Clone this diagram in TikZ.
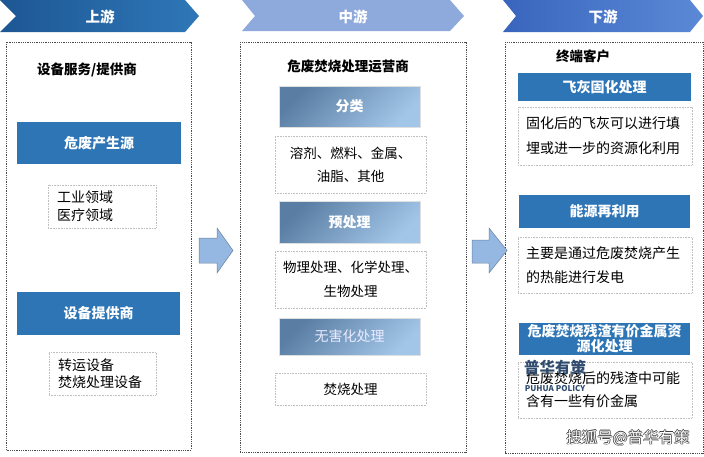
\documentclass[tikz,border=0pt]{standalone}
\usepackage{fontspec}
\setmainfont{Noto Sans CJK SC}
\usepackage{tikz}
\definecolor{up-dark}{HTML}{1D5793}
\definecolor{up-light}{HTML}{2F77B8}
\definecolor{mid-blue}{HTML}{8EA9DB}
\definecolor{down-dark}{HTML}{3966BD}
\definecolor{down-light}{HTML}{5B89D6}
\definecolor{head-blue}{HTML}{2E75B6}
\definecolor{grad-dark}{HTML}{5A7DA3}
\definecolor{grad-light}{HTML}{A2C6E8}
\definecolor{arrow-blue}{HTML}{95B8E3}
\definecolor{mark-blue}{HTML}{2F4B6E}

\newcommand{\outlinetext}[1]{%
	\rlap{\hspace{-.7pt}\textcolor{black!75}{#1}}%
	\rlap{\hspace{.7pt}\textcolor{black!75}{#1}}%
	\rlap{\raisebox{.7pt}{\textcolor{black!75}{#1}}}%
	\rlap{\raisebox{-.7pt}{\textcolor{black!75}{#1}}}%
	\textcolor{white}{#1}}

\tikzset{
	chevtext/.style={text=white, font=\bfseries\fontsize{14.5}{16}\selectfont, inner sep=0},
	titletext/.style={font=\bfseries\fontsize{13.5}{16}\selectfont, inner sep=0},
	outerbox/.style={draw=black!70, densely dotted, line width=.8pt},
	headbox/.style={fill=head-blue, text=white, font=\bfseries\fontsize{14}{15}\selectfont, inner sep=0, align=center},
	gradbox/.style={top color=grad-dark, bottom color=grad-light, shading angle=45, draw=gray!25, text=white, font=\bfseries\fontsize{14}{16}\selectfont, inner sep=0, minimum width=141pt},
	textbox/.style={draw=gray!50, densely dotted, line width=.6pt, inner ysep=0},
	blockarrow/.style={fill=arrow-blue, draw=arrow-blue!70!black, line width=.5pt},
}

\begin{document}
\begin{tikzpicture}[x=1pt,y=-1pt]
		\useasboundingbox (0,0) rectangle (704,456);
		\fill[white] (0,0) rectangle (704,456);

			% chevrons
			\shade[left color=up-dark, right color=up-light] (0,0) -- (185,0) -- (199,16) -- (185,32) -- (0,32) -- (16,16) -- cycle;
			\fill[mid-blue] (242,0) -- (450,0) -- (464,16) -- (450,31) -- (242,31) -- (255,16) -- cycle;
			\shade[left color=down-dark, right color=down-light] (503,0) -- (690,0) -- (703,16) -- (690,32) -- (503,32) -- (516,16) -- cycle;

			\node[chevtext] (up) at (100,17) {上游};
			\node[chevtext] (mid) at (353,17) {中游};
			\node[chevtext] (down) at (603,17) {下游};

			% column frames
			\draw[outerbox] (6,42) rectangle (191,450);
			\draw[outerbox] (240,42) rectangle (466,452);
			\draw[outerbox] (505,42) rectangle (703,453);

			% upstream
			\node[titletext] (upttl) at (87,70) {设备服务/提供商};
			\node[headbox, minimum width=164pt, minimum height=42pt] (src) at (99,143) {危废产生源};
			\node[textbox, text width=90pt, inner xsep=9pt, minimum height=43pt, align=left,
				font=\fontsize{14}{18}\selectfont] (srctxt) at (102,206.5) {工业领域\\医疗领域};
			\node[headbox, minimum width=163pt, minimum height=43pt] (sup) at (98.5,313.5) {设备提供商};
			\node[textbox, text width=89pt, inner xsep=9pt, minimum height=43pt, align=left,
				font=\fontsize{14}{17}\selectfont] (suptxt) at (102.5,373.5) {转运设备\\焚烧处理设备};

			% midstream
			\node[titletext] (midttl) at (348,66) {危废焚烧处理运营商};
			\node[gradbox, minimum height=41pt] (sort) at (349.5,106.5) {分类};
			\node[textbox, minimum width=151pt, minimum height=57pt, align=center,
				font=\fontsize{13.5}{23}\selectfont] (sorttxt) at (350.5,164.5) {溶剂、燃料、金属、\\油脂、其他};
			\node[gradbox, minimum height=42pt] (pre) at (349.5,222) {预处理};
			\node[textbox, minimum width=151pt, minimum height=57pt, align=center,
				font=\fontsize{13.5}{24}\selectfont] (pretxt) at (350.5,279.5) {物理处理、化学处理、\\生物处理};
			\node[gradbox, minimum height=37pt, text=white!92!blue, font=\fontsize{14}{16}\selectfont] (safe) at (349.5,336.5) {无害化处理};
			\node[textbox, minimum width=151pt, minimum height=32pt,
				font=\fontsize{13.5}{16}\selectfont] (safetxt) at (350.5,389) {焚烧处理};

			% downstream
			\node[titletext] (downttl) at (583,56) {终端客户};
			\node[headbox, minimum width=173pt, minimum height=28pt] (ash) at (604.5,87) {飞灰固化处理};
			\node[textbox, text width=158pt, inner xsep=8pt, minimum height=58pt, align=left,
				font=\fontsize{14}{25}\selectfont] (ashtxt) at (605,136) {固化后的飞灰可以进行填\\埋或进一步的资源化利用};
			\node[headbox, minimum width=171pt, minimum height=33pt] (energy) at (604.5,211.5) {能源再利用};
			\node[textbox, text width=158pt, inner xsep=8pt, minimum height=56pt, align=left,
				font=\fontsize{14}{24}\selectfont] (energytxt) at (605,265) {主要是通过危废焚烧产生\\的热能进行发电};
			\node[headbox, minimum width=171pt, minimum height=32pt] (metal) at (604.5,339) {危废焚烧残渣有价金属资\\源化处理};
			\node[textbox, text width=158pt, inner xsep=8pt, minimum height=56pt, align=left,
				font=\fontsize{14}{23}\selectfont] (metaltxt) at (605,390) {危废焚烧后的残渣中可能\\含有一些有价金属};

			% block arrows
			\filldraw[blockarrow] (199,238) -- (217,238) -- (217,228) -- (233,250.5) -- (217,273) -- (217,263) -- (199,263) -- cycle;
			\filldraw[blockarrow] (472,240) -- (489,240) -- (489,228) -- (507,250.5) -- (489,273) -- (489,263) -- (472,263) -- cycle;

			% watermarks
			\node[text=mark-blue, font=\bfseries\fontsize{15.5}{16}\selectfont, inner sep=0] (markcn) at (555,368) {普华有策};
			\node[text=mark-blue, font=\bfseries\fontsize{8}{9}\selectfont, inner sep=0] (marken) at (555,388.5) {PUHUA POLICY};
			\node[font=\fontsize{15.5}{16}\selectfont, inner sep=0] (sohu) at (628,438) {\outlinetext{搜狐号@普华有策}};
%			\draw[thin, gray] (0,0) grid[step=50] (704,456);
		\end{tikzpicture}
\end{document}
